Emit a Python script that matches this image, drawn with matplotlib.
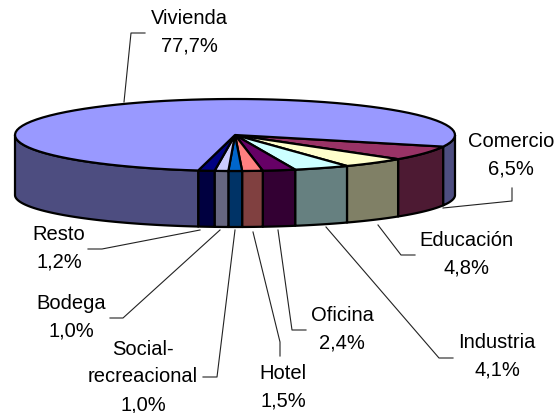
import numpy as np
import matplotlib
matplotlib.use('Agg')
import matplotlib.pyplot as plt

plt.rcParams['font.family'] = ['Liberation Sans', 'DejaVu Sans']

# clockwise from the right hand side of the pie
categorias = ['Comercio', 'Educación', 'Industria', 'Oficina', 'Hotel',
              'Social-\nrecreacional', 'Bodega', 'Resto', 'Vivienda']
valores = [6.5, 4.8, 4.1, 2.4, 1.5, 1.0, 1.0, 1.2, 77.7]
etiquetas = ['6,5%', '4,8%', '4,1%', '2,4%', '1,5%', '1,0%', '1,0%', '1,2%', '77,7%']

top_colors = ['#993366', '#FFFFCC', '#CCFFFF', '#660066', '#FF8080',
              '#0066CC', '#CCCCFF', '#000080', '#9999FF']
side_colors = ['#4D1A33', '#808066', '#668080', '#330033', '#804040',
               '#003366', '#666680', '#000040', '#4D4D80']

# label centres and leader lines, in pixels of the picture
label_pos = [(511, 155), (466, 254), (497, 356), (342, 329), (283, 387),
             (143, 377), (71, 317), (59, 248), (189, 32)]
leaders = [[(443, 208), (512, 201), (512, 188)],
           [(378, 225), (401, 255), (415, 255)],
           [(326, 227), (439, 358), (453, 358)],
           [(278, 230), (292, 330), (306, 330)],
           [(253, 232), (280, 342), (280, 356)],
           [(235, 230), (217, 377), (203, 377)],
           [(220, 230), (123, 318), (110, 318)],
           [(200, 230), (102, 249), (88, 249)],
           [(124, 102), (131, 33), (145, 33)]]

cx, cy, rx, ry = 235, 135, 220, 36
cy_low, ry_low = 195, 32
start = 18.8


def arc(a1, a2, y0, yr):
    t = np.radians(np.linspace(a1, a2, 80))
    return cx + rx * np.cos(t), y0 + yr * np.sin(t)


fig = plt.figure(figsize=(5.55, 4.13), dpi=100)
ax = fig.add_axes([0, 0, 1, 1])
ax.set_xlim(0, 555)
ax.set_ylim(413, 0)
ax.axis('off')

angles = start + np.cumsum([0] + valores) * 360 / sum(valores)

# walls first, only the front half of the cylinder can be seen
for i in range(len(valores)):
    a1, a2 = angles[i], angles[i + 1]
    pieces = [(a1, min(a2, 180))] if a1 < 180 else []
    if a2 > 360:
        pieces.append((360, a2))
    for p1, p2 in pieces:
        xt, yt = arc(p1, p2, cy, ry)
        xb, yb = arc(p1, p2, cy_low, ry_low)
        ax.fill(np.r_[xt, xb[::-1]], np.r_[yt, yb[::-1]], facecolor=side_colors[i],
                edgecolor='black', lw=1.6, joinstyle='round')

# top face
for i in range(len(valores)):
    xt, yt = arc(angles[i], angles[i + 1], cy, ry)
    ax.fill(np.r_[cx, xt], np.r_[cy, yt], facecolor=top_colors[i],
            edgecolor='black', lw=1.6, joinstyle='round')

for pts in leaders:
    ax.plot([p[0] for p in pts], [p[1] for p in pts], color='#222222', lw=0.8)

for cat, et, pos in zip(categorias, etiquetas, label_pos):
    ax.text(pos[0], pos[1], cat + '\n' + et, ha='center', va='center',
            fontsize=14.5, color='black', linespacing=1.59)

fig.savefig('out.png', dpi=100)
